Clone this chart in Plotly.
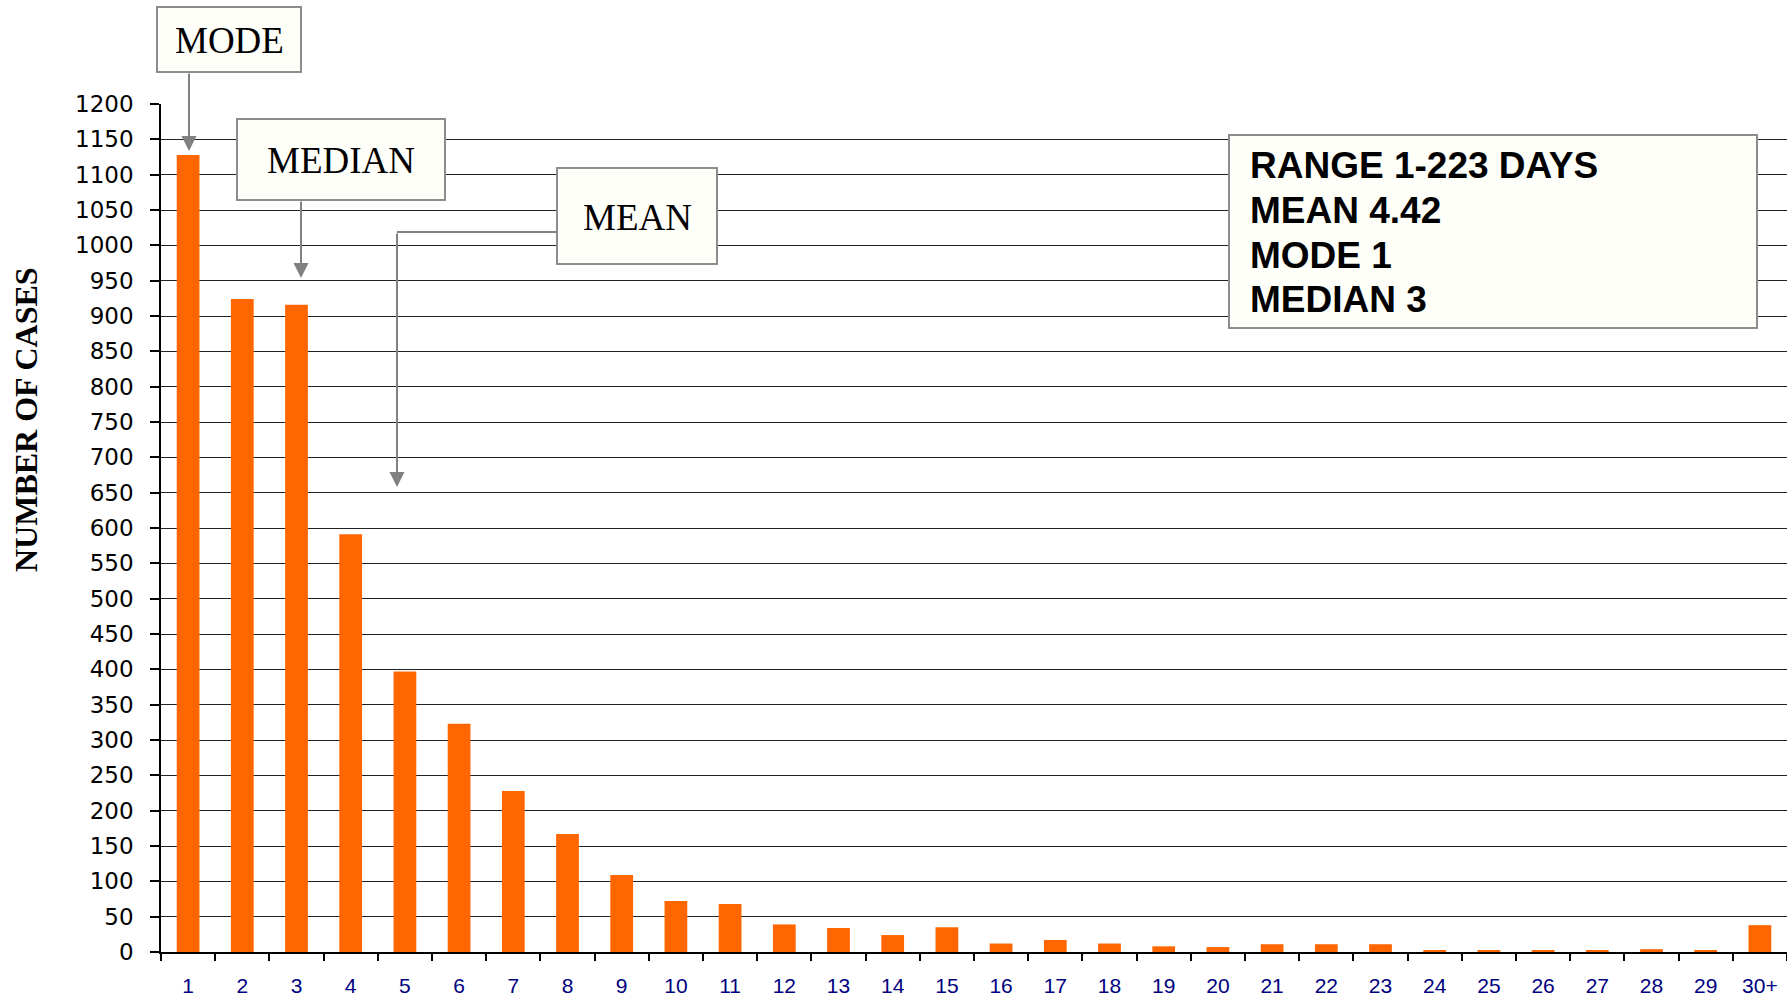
import plotly.graph_objects as go

# Length of stay (days) and number of cases
days = [str(d) for d in range(1, 30)] + ["30+"]
cases = [1128, 924, 916, 591, 397, 323, 228, 167, 109, 72,
         68, 39, 34, 24, 35, 12, 17, 12, 8, 7,
         11, 11, 11, 2, 2, 2, 2, 4, 2, 38]

stats_lines = ["RANGE 1-223 DAYS", "MEAN 4.42", "MODE 1", "MEDIAN 3"]
y_title = "NUMBER OF CASES"

W, H = 1787, 998
L, R, T, B = 161, 0, 104, 46
PW, PH = W - L - R, H - T - B


def px(x):
    return (x - L) / PW


def py(y):
    return (H - B - y) / PH


BOX_LINE = "#8c8c8c"
BOX_FILL = "#fffffa"
ARROW = "#808080"

fig = go.Figure(go.Bar(
    x=days, y=cases,
    marker=dict(color="#ff6600", line=dict(width=0)),
))

fig.update_layout(
    width=W, height=H,
    margin=dict(l=L, r=R, t=T, b=B),
    paper_bgcolor="white", plot_bgcolor="white",
    bargap=0.58,
    showlegend=False,
    xaxis=dict(
        type="category",
        tickson="boundaries",
        ticks="outside", ticklen=7, tickwidth=1.5, tickcolor="black",
        showline=True, linecolor="black", linewidth=1.5,
        showgrid=False,
        tickfont=dict(family="Liberation Sans", size=21, color="#000080"),
        ticklabelstandoff=14,
    ),
    yaxis=dict(
        range=[0, 1200], dtick=50,
        ticks="outside", ticklen=9, tickwidth=1.5, tickcolor="black",
        showline=True, linecolor="black", linewidth=1.5,
        showgrid=True, gridcolor="#222222", gridwidth=1.3,
        zeroline=False,
        tickfont=dict(family="DejaVu Sans", size=23, color="black"),
        ticklabelstandoff=12,
    ),
)

shapes = []
annotations = []


def label_box(x0, y0, x1, y1, text, font):
    shapes.append(dict(
        type="rect", xref="paper", yref="paper", layer="above",
        x0=px(x0), x1=px(x1), y0=py(y1), y1=py(y0),
        line=dict(color=BOX_LINE, width=2), fillcolor=BOX_FILL,
    ))
    annotations.append(dict(
        xref="paper", yref="paper", showarrow=False,
        x=px((x0 + x1) / 2), y=py((y0 + y1) / 2 + 1),
        xanchor="center", yanchor="middle",
        text=text, font=font,
    ))


def arrow(x, y_tail, y_tip):
    annotations.append(dict(
        xref="paper", yref="paper", x=px(x), y=py(y_tip),
        ax=0, ay=y_tail - y_tip, text="",
        showarrow=True, arrowhead=2, arrowsize=1.5, arrowwidth=2,
        arrowcolor=ARROW, standoff=0,
    ))


serif = dict(family="Liberation Serif", size=37, color="black")

label_box(157, 7, 301, 72, "MODE", serif)
arrow(189, 72, 151)

label_box(237, 119, 445, 200, "MEDIAN", serif)
arrow(301, 200, 278)

label_box(557, 168, 717, 264, "MEAN", serif)
shapes.append(dict(
    type="line", xref="paper", yref="paper", layer="above",
    x0=px(397), x1=px(557), y0=py(232), y1=py(232),
    line=dict(color=ARROW, width=2),
))
arrow(397, 232, 487)

# Summary statistics panel
shapes.append(dict(
    type="rect", xref="paper", yref="paper", layer="above",
    x0=px(1229), x1=px(1757), y0=py(328), y1=py(135),
    line=dict(color=BOX_LINE, width=2), fillcolor=BOX_FILL,
))
for i, line in enumerate(stats_lines):
    annotations.append(dict(
        xref="paper", yref="paper", showarrow=False,
        x=px(1248), y=py(166 + 44.5 * i), xanchor="left", yanchor="middle",
        text=f"<b>{line}</b>",
        font=dict(family="Liberation Sans", size=37, color="black"),
    ))

# Vertical axis title
annotations.append(dict(
    xref="paper", yref="paper", showarrow=False,
    x=px(26), y=py(420), xanchor="center", yanchor="middle",
    textangle=-90, text=f"<b>{y_title}</b>",
    font=dict(family="Liberation Serif", size=32, color="black"),
))

fig.update_layout(shapes=shapes, annotations=annotations)

fig.write_html("out.html")
